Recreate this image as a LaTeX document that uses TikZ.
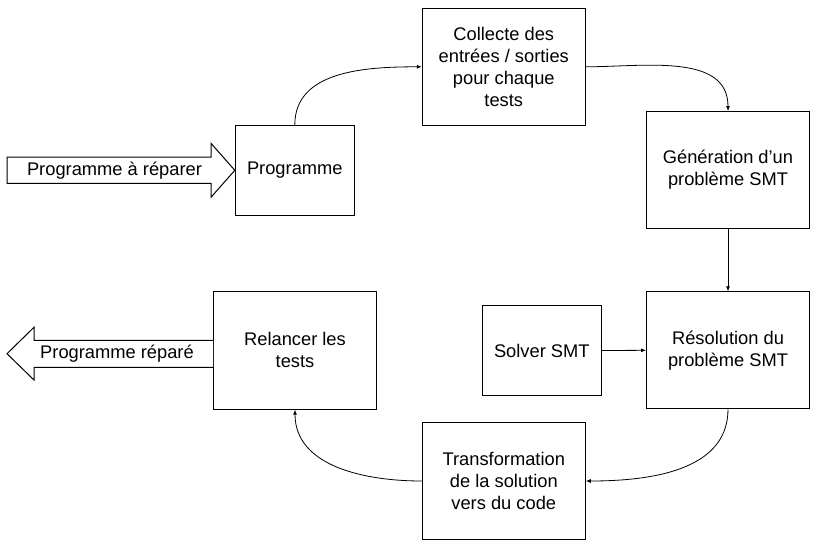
\documentclass[tikz,border=0pt]{standalone}
\usepackage{fontspec}
\setmainfont{Liberation Sans}
\usetikzlibrary{arrows.meta}
\begin{document}
\begin{tikzpicture}[x=1pt,y=-1pt,
  txt/.style={font=\fontsize{18.3}{22}\selectfont, align=center},
  box/.style={txt, draw=black, line width=1pt, fill=white, inner sep=0pt},
  small/.style={box, minimum width=119pt, minimum height=90pt},
  big/.style={box, minimum width=163pt, minimum height=117pt},
  conn/.style={draw=black, line width=0.8pt, -{Latex[length=5pt,width=4pt]}},
  fatarrow/.style={draw=black, line width=1pt, fill=white, line join=miter}
]
\useasboundingbox (0,0) rectangle (821,549);
\fill[white] (0,0) rectangle (821,549);

\node[small] (prog)  at (294.8,170.3) {Programme};
\node[big]   (coll)  at (503.8,66.8)  {Collecte des\\entrées / sorties\\pour chaque\\tests};
\node[big]   (gen)   at (728,170)     {Génération d’un\\problème SMT};
\node[big]   (res)   at (728,350.3)   {Résolution du\\problème SMT};
\node[small] (solv)  at (541.8,350.5) {Solver SMT};
\node[big]   (trans) at (503.8,481)   {Transformation\\de la solution\\vers du code};
\node[big, minimum height=118pt] (rel) at (295,350.2) {Relancer les\\tests};

% input fat arrow
\coordinate (inTip) at (prog.west);
\draw[fatarrow] (7,157) -- (211,157) -- (211,143.3) -- (inTip) -- (211,197.3) -- (211,183.3) -- (7,183.3) -- cycle;
\node[txt] (inLbl) at (114.5,170.3) {Programme à réparer};

% output fat arrow
\coordinate (outBase) at (rel.west);
\draw[fatarrow] (outBase |- 0,340.3) -- (34,340.3) -- (34,327.3) -- (7,353.7) -- (34,380) -- (34,367.3) -- (outBase |- 0,367.3);
\node[txt] (outLbl) at (117,353.7) {Programme réparé};

% connectors
\draw[conn] (prog.north) to[out=90,in=180] (coll.west);
\draw[conn] (coll.east) to[out=0,in=90] (gen.north);
\draw[conn] (gen.south) -- (res.north);
\draw[conn] (solv.east) -- (res.west);
\draw[conn] (res.south) to[out=-90,in=0] (trans.east);
\draw[conn] (trans.west) to[out=180,in=-90] (rel.south);
\end{tikzpicture}
\end{document}
